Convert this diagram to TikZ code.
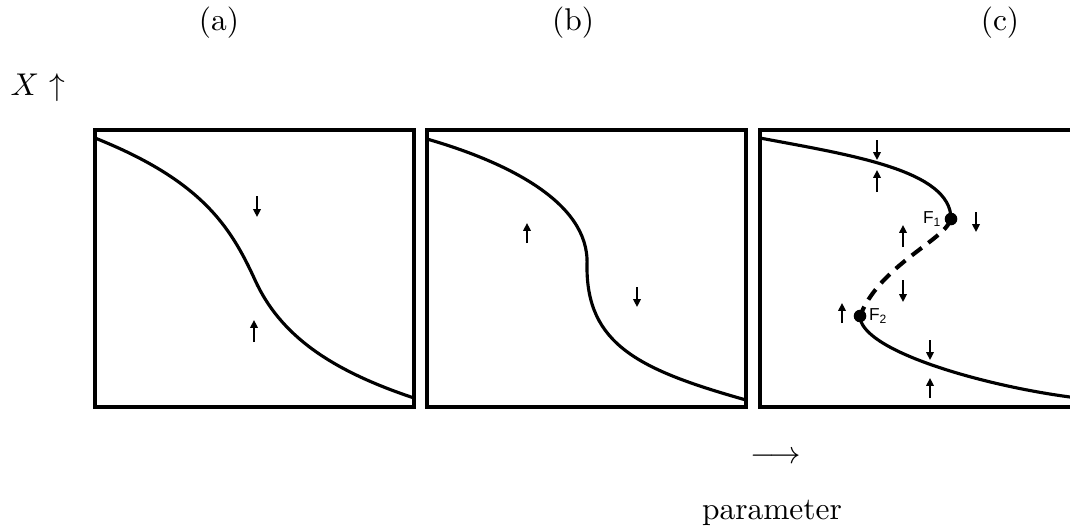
\documentclass[tikz,border=0pt]{standalone}
\usepackage{fontspec}
\newfontfamily\labelfont{Liberation Sans}
\usepackage{tikz}
\usetikzlibrary{arrows.meta,positioning}
\tikzset{
  panel/.style={draw, line width=1.1pt},
  branch/.style={line width=1pt},
  unstable/.style={line width=1.3pt, dash pattern=on 4pt off 2.6pt},
  flow/.style={-{Triangle[length=2.5pt,width=2.4pt]}, line width=0.5pt},
  fold/.style={circle, fill, inner sep=0pt, minimum size=4pt},
  flabel/.style={font=\labelfont\fontsize{5.5}{6}\selectfont, inner sep=0.5pt}
}

\begin{document}
\begin{tikzpicture}[x=0.318pt, y=-0.318pt]
  \useasboundingbox (0,0) rectangle (1070,530);

  % captions and axes
  \node (capa) at (219,23) {(a)};
  \node (capb) at (573,23) {(b)};
  \node (capc) at (1000,23) {(c)};
  \node (xaxis) at (38,88) {$X$ $\uparrow$};
  \node (parr) at (776,458) {$\longrightarrow$};
  \node (param) at (772,513) {parameter};

  % panels
  \draw[panel] (95,130) rectangle (414,407);
  \draw[panel] (427,130) rectangle (746,407);
  \draw[panel] (1070,130) -- (760,130) -- (760,407) -- (1070,407);

  % (a)
  \draw[branch] (95,138) .. controls (200,180) and (230,225) .. (255,280)
                .. controls (280,335) and (330,370) .. (414,398);
  \draw[flow] (257,196) -- (257,217);
  \draw[flow] (254,342) -- (254,320);

  % (b)
  \draw[branch] (427,139) .. controls (500,160) and (590,200) .. (587,265)
                .. controls (586,345) and (640,370) .. (746,400);
  \draw[flow] (527,243) -- (527,223);
  \draw[flow] (637,287) -- (637,307);

  % (c)
  \node[fold] (F1) at (951,219) {};
  \node[fold] (F2) at (860,316) {};
  \node[flabel, left=0pt of F1] (lf1) {F\textsubscript{1}};
  \node[flabel, right=0pt of F2] (lf2) {F\textsubscript{2}};
  \draw[branch] (760,138) .. controls (850,155) and (951,170) .. (F1.center);
  \draw[unstable] (F1.center) .. controls (945,240) and (880,265) .. (F2.center);
  \draw[branch] (F2.center) .. controls (860,350) and (980,385) .. (1070,397);
  \draw[flow] (877,140) -- (877,160);
  \draw[flow] (877,192) -- (877,170);
  \draw[flow] (976,212) -- (976,232);
  \draw[flow] (903,247) -- (903,225);
  \draw[flow] (903,280) -- (903,302);
  \draw[flow] (842,323) -- (842,303);
  \draw[flow] (930,340) -- (930,360);
  \draw[flow] (930,398) -- (930,378);
\end{tikzpicture}
\end{document}
